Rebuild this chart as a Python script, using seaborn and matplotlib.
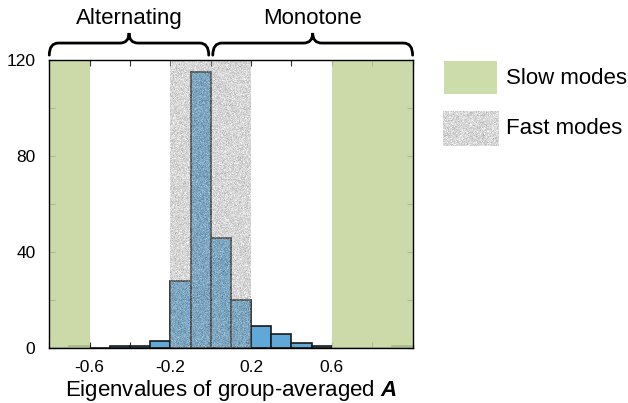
import numpy as np
import pandas as pd
import seaborn as sns
import matplotlib
matplotlib.use("Agg")
import matplotlib.pyplot as plt
from matplotlib.path import Path
from matplotlib.patches import PathPatch
import matplotlib.transforms as mtransforms

# ---- data ----
bin_edges = [-0.8, -0.7, -0.6, -0.5, -0.4, -0.3, -0.2, -0.1, 0.0, 0.1, 0.2, 0.3, 0.4, 0.5, 0.6, 0.7, 0.8, 0.9, 1.0]
bin_counts = [0, 1, 0, 1, 1, 3, 28, 115, 46, 20, 9, 6, 2, 1, 0, 0, 0, 1]
slow_ranges = [(-0.8, -0.6), (0.6, 1.0)]
fast_range = (-0.2, 0.2)
x_ticks = [-0.8, -0.6, -0.4, -0.2, 0.0, 0.2, 0.4, 0.6, 0.8, 1.0]
x_labels = ["", "-0.6", "", "-0.2", "", "0.2", "", "0.6", "", ""]
y_ticks = [0, 20, 40, 60, 80, 100, 120]
y_labels = ["0", "", "40", "", "80", "", "120"]
brace_labels = ["Alternating", "Monotone"]
brace_spans = [(-0.8, -0.01), (0.01, 1.0)]
legend_labels = ["Slow modes", "Fast modes"]

centers = [(a + b) / 2 for a, b in zip(bin_edges[:-1], bin_edges[1:])]
df = pd.DataFrame({"x": centers, "w": bin_counts})

sns.set_theme(style="white")
plt.rcParams["font.family"] = ["Liberation Sans", "DejaVu Sans"]
plt.rcParams["mathtext.fontset"] = "custom"
plt.rcParams["mathtext.bfit"] = "Liberation Sans:bold:italic"
plt.rcParams["text.color"] = "black"
plt.rcParams["axes.labelcolor"] = "black"

fig = plt.figure(figsize=(6.28, 4.03), dpi=100)
ax = fig.add_axes([0.0785, 0.1365, 0.5785, 0.7145])

sns.histplot(data=df, x="x", weights="w", bins=bin_edges, ax=ax,
             color="#5fa8d8", alpha=1.0, edgecolor="#1a1a1a", linewidth=1.2, zorder=2)

GREEN_ON_TOP = "#c3d49a"
for a, b in slow_ranges:
    ax.axvspan(a, b, color=GREEN_ON_TOP, alpha=0.85, lw=0, zorder=3)

rng = np.random.default_rng(3)
tex = np.clip(rng.normal(0.64, 0.12, (290, 82)), 0, 1)
ax.imshow(tex, cmap="gray", vmin=0, vmax=1, extent=[fast_range[0], fast_range[1], 0, 120],
          aspect="auto", alpha=0.45, zorder=3, interpolation="nearest")

ax.set_xlim(-0.8, 1.0)
ax.set_ylim(0, 120)
ax.set_xticks(x_ticks)
ax.set_xticklabels(x_labels)
ax.set_yticks(y_ticks)
ax.set_yticklabels(y_labels)
ax.tick_params(direction="in", length=4, width=0.8, colors="#333333", labelcolor="black",
               labelsize=12.5, top=True, right=True, bottom=True, left=True)
ax.tick_params(axis="x", pad=9)
ax.tick_params(axis="y", pad=10)
ax.set_ylabel("")
ax.set_xlabel(r"Eigenvalues of group-averaged $\boldsymbol{A}$", fontsize=16, labelpad=1.5)
for s in ax.spines.values():
    s.set_visible(True)
    s.set_color("black")
    s.set_linewidth(1.0)
    s.set_zorder(5)

# ---- braces ----
trans = mtransforms.blended_transform_factory(ax.transData, ax.transAxes)
ye, yl, yt = 1.017, 1.059, 1.094
d = 0.045
for (x0, x1), lab in zip(brace_spans, brace_labels):
    xm = (x0 + x1) / 2
    verts = [(x0, ye), (x0, yl), (x0 + d, yl), (xm - d, yl), (xm, yl), (xm, yt),
             (xm, yl), (xm + d, yl), (x1 - d, yl), (x1, yl), (x1, ye)]
    codes = [Path.MOVETO, Path.CURVE3, Path.CURVE3, Path.LINETO, Path.CURVE3, Path.CURVE3,
             Path.CURVE3, Path.CURVE3, Path.LINETO, Path.CURVE3, Path.CURVE3]
    ax.add_patch(PathPatch(Path(verts, codes), transform=trans, fill=False, lw=2.0,
                           edgecolor="black", clip_on=False, capstyle="round"))
    ax.text(xm, 1.146, lab, transform=trans, ha="center", va="center", fontsize=16)

# ---- legend ----
W, H = 628, 403
def px_axes(x0, y0, x1, y1):
    return fig.add_axes([x0 / W, 1 - y1 / H, (x1 - x0) / W, (y1 - y0) / H])

lg1 = px_axes(444, 61, 497, 94)
lg1.set_facecolor("#cddcab")
lg1.set_xticks([]); lg1.set_yticks([])
for s in lg1.spines.values():
    s.set_visible(False)

lg2 = px_axes(443, 111, 498, 146)
tex2 = np.clip(rng.normal(0.84, 0.055, (35, 55)), 0, 1)
lg2.imshow(tex2, cmap="gray", vmin=0, vmax=1, aspect="auto", interpolation="nearest")
lg2.set_xticks([]); lg2.set_yticks([])
for s in lg2.spines.values():
    s.set_visible(False)

fig.text(506 / W, 1 - 78 / H, legend_labels[0], ha="left", va="center", fontsize=16)
fig.text(506 / W, 1 - 128 / H, legend_labels[1], ha="left", va="center", fontsize=16)

fig.savefig("out.png", dpi=100)
